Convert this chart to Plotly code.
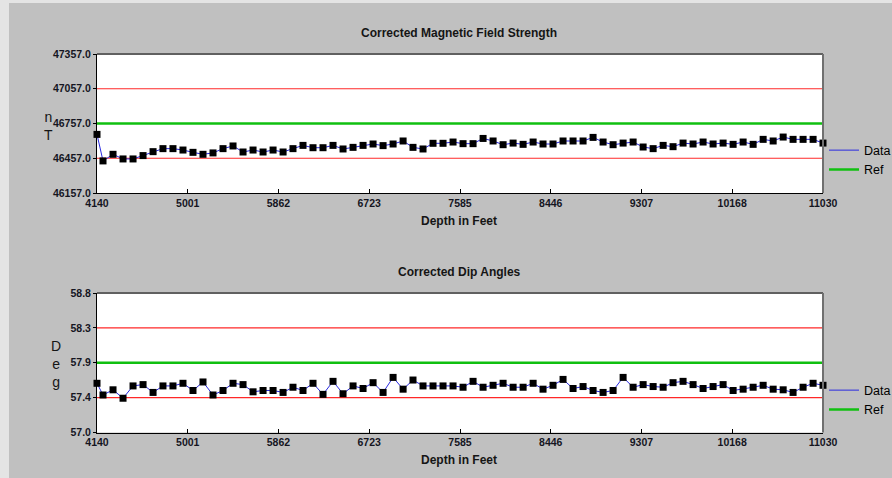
import plotly.graph_objects as go

# ---------------- data ----------------
depth = [4140, 4197, 4292, 4387, 4482, 4577, 4672, 4766, 4861, 4956, 5051, 5146, 5241, 5336,
         5431, 5526, 5621, 5716, 5811, 5906, 6000, 6095, 6190, 6285, 6380, 6475, 6570, 6665,
         6760, 6855, 6950, 7045, 7139, 7234, 7329, 7424, 7519, 7614, 7709, 7804, 7899, 7994,
         8089, 8184, 8279, 8373, 8468, 8563, 8658, 8753, 8848, 8943, 9038, 9133, 9228, 9323,
         9418, 9513, 9607, 9702, 9797, 9892, 9987, 10082, 10177, 10272, 10367, 10462, 10557,
         10652, 10746, 10841, 10936, 11030]

field_strength = [46663, 46434, 46491, 46451, 46451, 46480, 46514, 46540, 46540, 46528, 46508,
                  46491, 46503, 46540, 46563, 46511, 46528, 46511, 46528, 46511, 46540, 46568,
                  46548, 46548, 46568, 46537, 46551, 46568, 46580, 46566, 46580, 46606, 46551,
                  46537, 46586, 46586, 46597, 46583, 46583, 46628, 46606, 46574, 46588, 46577,
                  46597, 46580, 46580, 46606, 46606, 46606, 46637, 46597, 46574, 46588, 46597,
                  46554, 46540, 46568, 46557, 46588, 46580, 46597, 46580, 46588, 46577, 46597,
                  46577, 46620, 46606, 46640, 46620, 46620, 46620, 46588]

dip_angle = [57.635, 57.484, 57.551, 57.442, 57.601, 57.618, 57.517, 57.601, 57.601, 57.635,
             57.542, 57.652, 57.484, 57.542, 57.635, 57.618, 57.525, 57.542, 57.542, 57.517,
             57.584, 57.542, 57.635, 57.492, 57.660, 57.500, 57.601, 57.568, 57.643, 57.517,
             57.711, 57.559, 57.677, 57.601, 57.601, 57.601, 57.601, 57.584, 57.660, 57.584,
             57.609, 57.635, 57.584, 57.584, 57.635, 57.559, 57.609, 57.685, 57.568, 57.593,
             57.542, 57.517, 57.542, 57.711, 57.584, 57.618, 57.593, 57.584, 57.643, 57.660,
             57.618, 57.568, 57.593, 57.618, 57.542, 57.559, 57.584, 57.609, 57.559, 57.551,
             57.517, 57.584, 57.635, 57.609]

field_ref = 46757
field_limits = [46457, 47057]
field_ticks = [46157, 46457, 46757, 47057, 47357]
field_ticktext = ["46157.0", "46457.0", "46757.0", "47057.0", "47357.0"]

dip_ref = 57.9
dip_limits = [57.45, 58.35]
dip_ticks = [57.0, 57.45, 57.9, 58.35, 58.8]
dip_ticktext = ["57.0", "57.4", "57.9", "58.3", "58.8"]

depth_ticks = [4140, 5001, 5862, 6723, 7585, 8446, 9307, 10168, 11030]

# ---------------- figure ----------------
W, H = 892, 478
FONT = "Liberation Sans, Arial, sans-serif"

def px(x):
    return x / W

def py(y):
    return 1 - y / H

fig = go.Figure()

x_span = [depth[0], depth[-1]]

panels = [
    dict(xa="x", ya="y", values=field_strength, ref=field_ref, limits=field_limits, legend="legend"),
    dict(xa="x2", ya="y2", values=dip_angle, ref=dip_ref, limits=dip_limits, legend="legend2"),
]

for p in panels:
    for lim in p["limits"]:
        fig.add_trace(go.Scatter(x=x_span, y=[lim, lim], mode="lines",
                                 line=dict(color="#ff2828", width=1.2),
                                 xaxis=p["xa"], yaxis=p["ya"], showlegend=False, hoverinfo="skip"))
    fig.add_trace(go.Scatter(x=depth, y=p["values"], mode="lines", name="Data",
                             line=dict(color="#2a2ae0", width=1),
                             xaxis=p["xa"], yaxis=p["ya"], legend=p["legend"]))
    fig.add_trace(go.Scatter(x=x_span, y=[p["ref"], p["ref"]], mode="lines", name="Ref",
                             line=dict(color="#10c010", width=2.5),
                             xaxis=p["xa"], yaxis=p["ya"], legend=p["legend"]))
    fig.add_trace(go.Scatter(x=depth, y=p["values"], mode="markers",
                             marker=dict(symbol="square", size=7, color="black"),
                             cliponaxis=False,
                             xaxis=p["xa"], yaxis=p["ya"], showlegend=False))

x_dom = [px(97), px(823)]
top_dom = [py(193), py(54)]
bot_dom = [py(432.5), py(293)]

tickfont = dict(family=FONT, size=10.5, color="#15151f", weight="bold")

xcommon = dict(range=x_span, tickvals=depth_ticks, ticktext=[str(t) for t in depth_ticks],
               ticks="inside", ticklen=4, tickcolor="black", showgrid=False, zeroline=False,
               showline=True, linecolor="black", linewidth=1, tickfont=tickfont, domain=x_dom,
               automargin=False)

ycommon = dict(ticks="outside", ticklen=3, tickcolor="black", showgrid=False, zeroline=False,
               showline=True, linecolor="black", linewidth=1, tickfont=tickfont,
               automargin=False)

legend_common = dict(xanchor="left", yanchor="top", bgcolor="rgba(0,0,0,0)",
                     font=dict(family=FONT, size=12.5, color="black"), itemwidth=30,
                     tracegroupgap=0)

fig.update_layout(
    width=W, height=H, margin=dict(l=0, r=0, t=0, b=0, autoexpand=False),
    paper_bgcolor="#c0c0c0", plot_bgcolor="white",
    xaxis=dict(anchor="y", **xcommon),
    xaxis2=dict(anchor="y2", **xcommon),
    yaxis=dict(anchor="x", domain=top_dom, range=[46157, 47357], tickvals=field_ticks,
               ticktext=field_ticktext, **ycommon),
    yaxis2=dict(anchor="x2", domain=bot_dom, range=[57.0, 58.8], tickvals=dip_ticks,
                ticktext=dip_ticktext, **ycommon),
    legend=dict(x=px(824), y=py(135.5), **legend_common),
    legend2=dict(x=px(824), y=py(375.5), **legend_common),
    showlegend=True,
)

# page frame: light strips, and grey top/right borders of the plot areas
shapes = [
    dict(type="rect", xref="paper", yref="paper", x0=0, x1=px(9), y0=0, y1=1,
         fillcolor="#e4e4e4", line_width=0, layer="below"),
    dict(type="rect", xref="paper", yref="paper", x0=0, x1=1, y0=py(3), y1=1,
         fillcolor="#e4e4e4", line_width=0, layer="below"),
]
for dom in (top_dom, bot_dom):
    shapes.append(dict(type="line", xref="paper", yref="paper", x0=x_dom[0], x1=x_dom[1],
                       y0=dom[1], y1=dom[1], line=dict(color="#606060", width=2)))
    shapes.append(dict(type="line", xref="paper", yref="paper", x0=x_dom[1], x1=x_dom[1],
                       y0=dom[0], y1=dom[1], line=dict(color="#707070", width=2)))
fig.update_layout(shapes=shapes)

titlefont = dict(family=FONT, size=12, color="#151515", weight="bold")
ann = [
    dict(text="Corrected Magnetic Field Strength", x=px(459), y=py(33)),
    dict(text="Depth in Feet", x=px(459), y=py(221)),
    dict(text="Corrected Dip Angles", x=px(459), y=py(272)),
    dict(text="Depth in Feet", x=px(459), y=py(460)),
]
for a in ann:
    fig.add_annotation(xref="paper", yref="paper", showarrow=False, xanchor="center",
                       yanchor="middle", font=titlefont, **a)

ylab_font = dict(family=FONT, size=14, color="#151515")
fig.add_annotation(text="n<br>T", x=px(48), y=py(126), xref="paper", yref="paper",
                   xanchor="center", yanchor="middle",
                   showarrow=False, font=ylab_font, align="center")
fig.add_annotation(text="D<br>e<br>g", x=px(56), y=py(364), xref="paper", yref="paper",
                   xanchor="center", yanchor="middle",
                   showarrow=False, font=ylab_font, align="center")

fig.write_html("out.html")
